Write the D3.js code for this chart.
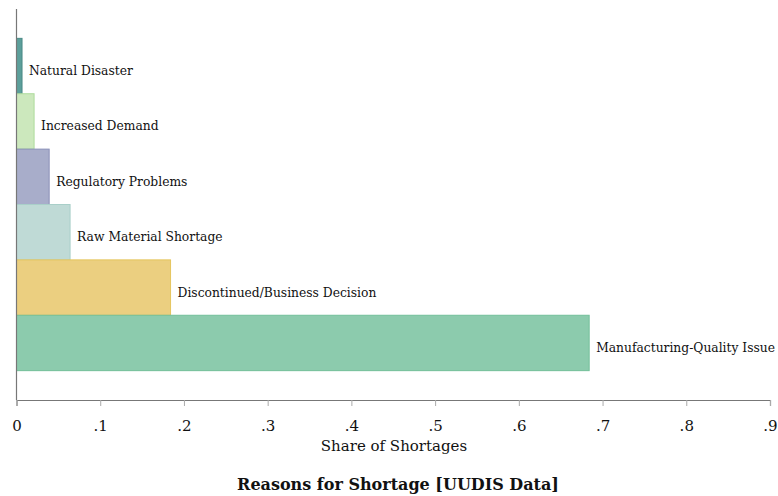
<!DOCTYPE html>
<html><head><meta charset="utf-8">
<script src="https://cdn.jsdelivr.net/npm/d3@7"></script>
<style>body{margin:0;background:#fff}svg{display:block}</style>
</head><body><div id="chart"></div>
<script>
const categories = ["Natural Disaster","Increased Demand","Regulatory Problems","Raw Material Shortage","Discontinued/Business Decision","Manufacturing-Quality Issue"];
const shares = [0.0066,0.021,0.039,0.064,0.184,0.684];
const fills = ["#5c9f9b","#cce8bd","#a8adca","#bfdad6","#ebcf80","#8ccbad"];
const strokes = ["#4a8a86","#aedb9c","#8a90b8","#a9cfc9","#e5c55e","#72bf99"];
const xTicks = [0,0.1,0.2,0.3,0.4,0.5,0.6,0.7,0.8,0.9];
const xTickLabels = ["0",".1",".2",".3",".4",".5",".6",".7",".8",".9"];

const FONT="'DejaVu Serif', 'Liberation Serif', serif";
const W=778,H=496;
const svg=d3.select("#chart").append("svg").attr("width",W).attr("height",H);
const x=d3.scaleLinear().domain([0,0.9]).range([16.5,770]);
const y=d3.scaleBand().domain(categories).range([9,400]).paddingOuter(0.53).paddingInner(0);

svg.selectAll("rect.bar").data(categories).join("rect").attr("class","bar")
 .attr("x",x(0)).attr("y",d=>y(d)).attr("width",(d,i)=>x(shares[i])-x(0)).attr("height",y.bandwidth())
 .attr("fill",(d,i)=>fills[i]).attr("stroke",(d,i)=>strokes[i]).attr("stroke-width",1);

svg.selectAll("text.lab").data(categories).join("text").attr("class","lab")
 .attr("x",(d,i)=>x(shares[i])+7).attr("y",d=>y(d)+y.bandwidth()/2+9)
 .style("font-family",FONT).attr("font-size",12.3).attr("fill","#111").text(d=>d);

const xAxis=d3.axisBottom(x).tickValues(xTicks).tickFormat((d,i)=>xTickLabels[i]).tickSize(6).tickPadding(14);
const gx=svg.append("g").attr("transform","translate(0,400)").call(xAxis);
gx.select(".domain").attr("stroke","#777").attr("stroke-width",1.2);
gx.selectAll(".tick line").attr("stroke","#aaa");
gx.selectAll(".tick text").style("font-family",FONT).attr("font-size",15).attr("fill","#111");

svg.append("line").attr("x1",x(0)).attr("x2",x(0)).attr("y1",9).attr("y2",400).attr("stroke","#777").attr("stroke-width",1.2);

svg.append("text").attr("x",394).attr("y",451).attr("text-anchor","middle").style("font-family",FONT).attr("font-size",15).attr("fill","#111").text("Share of Shortages");
svg.append("text").attr("x",398).attr("y",490).attr("text-anchor","middle").style("font-family",FONT).attr("font-size",16).attr("font-weight","bold").attr("fill","#111").text("Reasons for Shortage [UUDIS Data]");
</script></body></html>
